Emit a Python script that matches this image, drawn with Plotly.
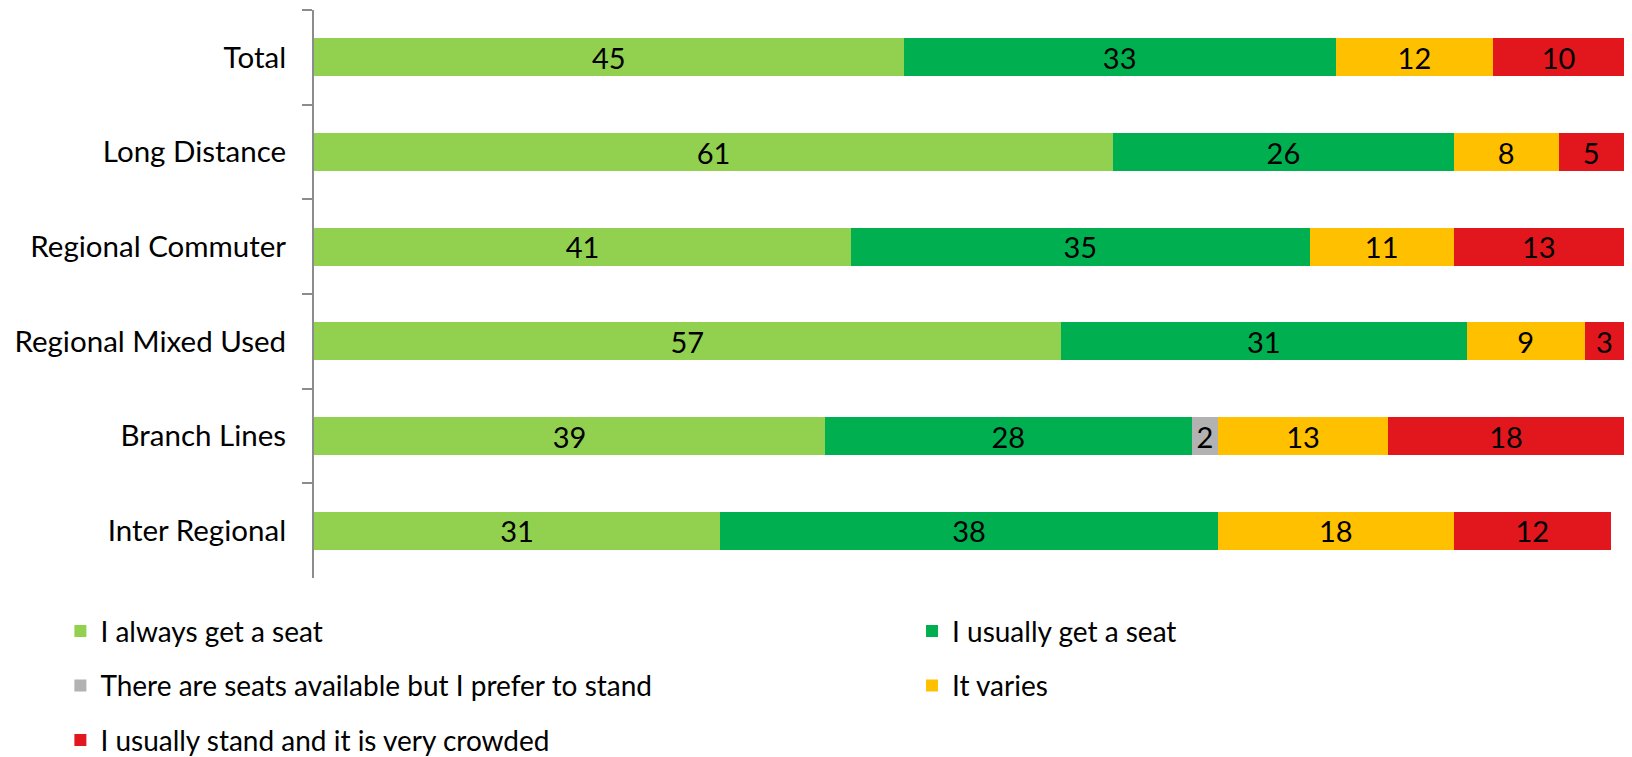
import plotly.graph_objects as go

categories = ["Total", "Long Distance", "Regional Commuter", "Regional Mixed Used", "Branch Lines", "Inter Regional"]
series_names = [
    "I always get a seat",
    "I usually get a seat",
    "There are seats available but I prefer to stand",
    "It varies",
    "I usually stand and it is very crowded",
]
always = [45, 61, 41, 57, 39, 31]
usually = [33, 26, 35, 31, 28, 38]
prefer_stand = [0, 0, 0, 0, 2, 0]
varies = [12, 8, 11, 9, 13, 18]
crowded = [10, 5, 13, 3, 18, 12]

values = [always, usually, prefer_stand, varies, crowded]
colors = ["#92D050", "#00B050", "#B2B2B2", "#FFC000", "#E2171E"]
legend_ids = ["legend", "legend2", "legend", "legend2", "legend"]

FONT = "Lato"

fig = go.Figure()
for i, (name, vals, col, lg) in enumerate(zip(series_names, values, colors, legend_ids)):
    fig.add_trace(go.Bar(
        y=categories, x=vals, name=name, orientation="h",
        marker=dict(color=col, line=dict(width=0)),
        text=[str(v) if v else "" for v in vals],
        textposition="inside", insidetextanchor="middle",
        constraintext="none", textangle=0,
        textfont=dict(family=FONT, size=29, color="black"),
        legend=lg, legendgroup=name,
        hoverinfo="skip",
    ))

fig.update_layout(
    width=1632, height=757,
    barmode="stack", bargap=0.6,
    plot_bgcolor="white", paper_bgcolor="white",
    margin=dict(l=314, r=8, t=10, b=179, autoexpand=False),
    font=dict(family=FONT, color="black"),
    xaxis=dict(range=[0, 100], visible=False),
    yaxis=dict(
        categoryorder="array", categoryarray=categories, autorange="reversed",
        showline=True, linecolor="#8C8C8C", linewidth=2,
        ticks="outside", tickson="boundaries", ticklen=10, tickcolor="#8C8C8C", tickwidth=2,
        ticklabelstandoff=20,
        tickfont=dict(family=FONT, size=29.5, color="black"),
        showgrid=False, zeroline=False,
    ),
    legend=dict(
        x=-0.1936, y=-0.05, xanchor="left", yanchor="top",
        orientation="v", tracegroupgap=15,
        font=dict(family=FONT, size=28, color="black"),
        bgcolor="rgba(0,0,0,0)",
    ),
    legend2=dict(
        x=0.4565, y=-0.05, xanchor="left", yanchor="top",
        orientation="v", tracegroupgap=15,
        font=dict(family=FONT, size=28, color="black"),
        bgcolor="rgba(0,0,0,0)",
    ),
    showlegend=True,
)

fig.write_html("out.html")
